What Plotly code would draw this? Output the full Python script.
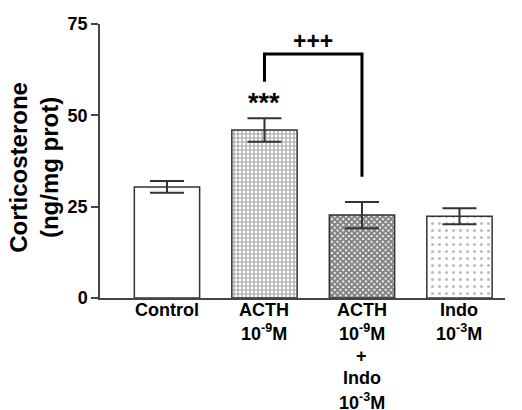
import plotly.graph_objects as go

categories = ["Control", "ACTH<br>10<sup>-9</sup>M", "ACTH<br>10<sup>-9</sup>M<br>+<br>Indo<br>10<sup>-3</sup>M", "Indo<br>10<sup>-3</sup>M"]
means = [30.4, 46.0, 22.7, 22.4]
errors = [1.6, 3.2, 3.6, 2.2]
pattern_shapes = ["", "+", "x", "."]
pattern_sizes = [6, 4, 4, 7]
pattern_solidity = [0.2, 0.5, 0.75, 0.15]
pattern_fg = ["#333333", "#444444", "#000000", "#777777"]
y_ticks = [0, 25, 50, 75]
bracket_x = [1, 1, 2, 2]
bracket_y = [59.2, 66.8, 66.8, 33.2]
sig_text_acth = "***"
sig_y_acth = 53.5
sig_text_bracket = "+++"
sig_y_bracket = 70.3

xs = list(range(len(categories)))
FONT = "Liberation Sans, Arial, sans-serif"

fig = go.Figure()
fig.add_trace(go.Bar(
    x=xs, y=means, width=0.67,
    marker=dict(
        color="white",
        line=dict(color="#333333", width=1.5),
        pattern=dict(shape=pattern_shapes, size=pattern_sizes, solidity=pattern_solidity,
                     fgcolor=pattern_fg, bgcolor="white", fillmode="overlay"),
    ),
    error_y=dict(type="data", array=errors, visible=True, color="#333333", thickness=2, width=17),
    showlegend=False,
))
fig.add_trace(go.Scatter(
    x=bracket_x, y=bracket_y, mode="lines",
    line=dict(color="black", width=3), showlegend=False, hoverinfo="skip",
))

# category labels under the x axis, one annotation per line for exact line placement
for xv, lab in zip(xs, categories):
    for k, line in enumerate(lab.split("<br>")):
        fig.add_annotation(x=xv, xref="x", y=0, yref="paper", text="<b>%s</b>" % line,
                           showarrow=False, yanchor="middle", xanchor="center",
                           yshift=-(12 + 22.8 * k),
                           font=dict(family=FONT, size=18, color="black"))

fig.add_annotation(x=1, y=sig_y_acth, text="<b>%s</b>" % sig_text_acth, showarrow=False,
                   font=dict(family=FONT, size=27, color="black"), xanchor="center", yanchor="middle")
fig.add_annotation(x=1.5, y=sig_y_bracket, text="<b>%s</b>" % sig_text_bracket, showarrow=False,
                   font=dict(family=FONT, size=23, color="black"), xanchor="center", yanchor="middle")
fig.add_annotation(xref="paper", yref="paper", x=-0.163, y=0.479,
                   text="<b>Corticosterone<br>(ng/mg prot)</b>", textangle=-90, showarrow=False,
                   font=dict(family=FONT, size=24, color="black"), xanchor="center", yanchor="middle")

fig.update_layout(
    width=522, height=410,
    margin=dict(l=100, r=17, t=24, b=112),
    plot_bgcolor="white", paper_bgcolor="white",
    font=dict(family=FONT, color="black"),
    xaxis=dict(
        range=[-0.687, 3.467], tickmode="array", tickvals=xs, showticklabels=False,
        showline=True, linecolor="#444444", linewidth=1.5, ticks="", showgrid=False, zeroline=False,
        automargin=False,
    ),
    yaxis=dict(
        range=[0, 75], tickmode="array", tickvals=y_ticks, automargin=False,
        showline=True, linecolor="#444444", linewidth=1.5, ticks="outside", ticklen=7,
        tickwidth=1.5, tickcolor="#444444", showgrid=False, zeroline=False,
        tickfont=dict(family=FONT, size=18, color="black", weight="bold"),
    ),
)

fig.write_html("out.html", config={"displayModeBar": False},
               post_script="document.body.style.margin='0';document.body.style.overflow='hidden';")
